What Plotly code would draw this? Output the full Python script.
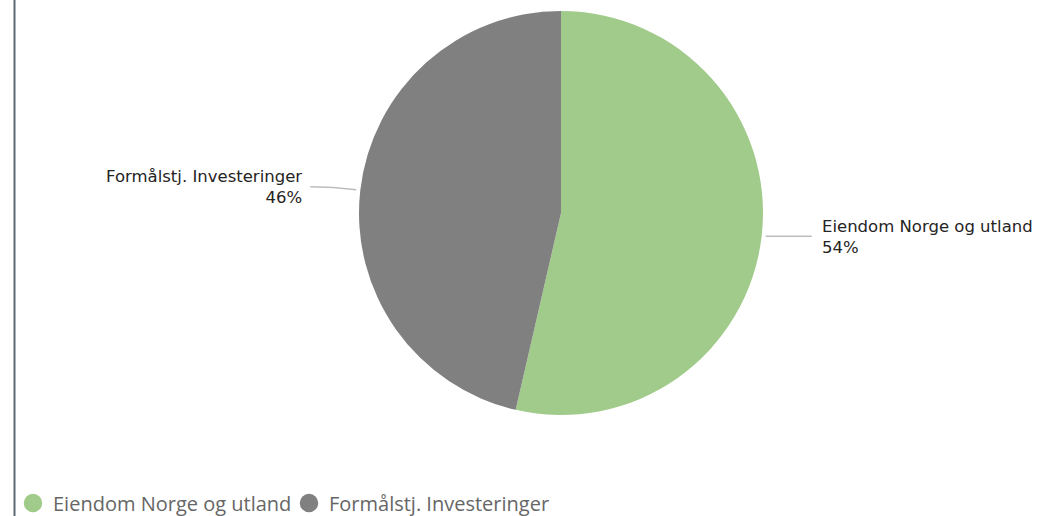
import math
import plotly.graph_objects as go

categories = ["Eiendom Norge og utland", "Formålstj. Investeringer"]
values = [53.6, 46.4]
colors = ["#A0CB8A", "#808080"]

W, H = 1064, 516
# pie geometry in pixels
cx, cy, R = 561, 213, 202

fig = go.Figure()
fig.add_trace(go.Pie(
    labels=categories, values=values, sort=False, direction="clockwise", rotation=0,
    marker=dict(colors=colors, line=dict(width=0)),
    textinfo="none", hoverinfo="label+percent", showlegend=False,
    domain=dict(x=[(cx - R) / W, (cx + R) / W], y=[(H - cy - R) / H, (H - cy + R) / H]),
))

# legend entries with circular markers
for c, col in zip(categories, colors):
    fig.add_trace(go.Scatter(x=[None], y=[None], mode="markers", name=c,
                             marker=dict(symbol="circle", size=18, color=col,
                                         line=dict(color=col, width=2.5))))

total = sum(values)
cum = 0.0
shapes = []
annotations = []
for c, v in zip(categories, values):
    mid = (cum + v / 2) / total * 2 * math.pi
    cum += v
    sx, sy = math.sin(mid), -math.cos(mid)
    x0 = cx + (R + 4) * sx
    y0 = cy + (R + 4) * sy
    right = sx >= 0
    x1 = x0 + (46 if right else -46)
    y1 = y0 - (0 if right else 3)
    shapes.append(dict(type="path", xref="paper", yref="paper",
                       path=f"M {x0/W},{1-y0/H} Q {(x0+x1)/2/W},{1-y1/H} {x1/W},{1-y1/H}",
                       line=dict(color="#BDBDBD", width=1.5)))
    tx = x1 + (8 if right else -6)
    pct = round(v / total * 100)
    annotations.append(dict(
        x=tx / W, y=1 - (y1 + 0.5) / H, xref="paper", yref="paper",
        text=f"{c}<br>{pct}%", showarrow=False,
        xanchor="left" if right else "right", yanchor="middle",
        align="left" if right else "right",
        font=dict(family="DejaVu Sans", size=16.5, color="#252423"),
    ))

shapes.append(dict(type="line", xref="paper", yref="paper", x0=14.5 / W, x1=14.5 / W, y0=0, y1=1,
                   line=dict(color="#5B6B73", width=2)))

fig.update_layout(
    width=W, height=H, margin=dict(l=0, r=0, t=0, b=0, autoexpand=False),
    paper_bgcolor="white", plot_bgcolor="white",
    xaxis=dict(visible=False), yaxis=dict(visible=False),
    shapes=shapes, annotations=annotations,
    legend=dict(orientation="h", xref="container", yref="container",
                x=13 / W, y=(H - 503) / H, xanchor="left", yanchor="middle",
                font=dict(family="Open Sans", size=20, color="#666666"),
                itemwidth=30, tracegroupgap=0, bgcolor="rgba(0,0,0,0)",
                entrywidth=231, entrywidthmode="pixels"),
)
fig.write_html("out.html", config={"displayModeBar": False},
               post_script="document.body.style.margin='0';document.body.style.overflow='hidden';")
